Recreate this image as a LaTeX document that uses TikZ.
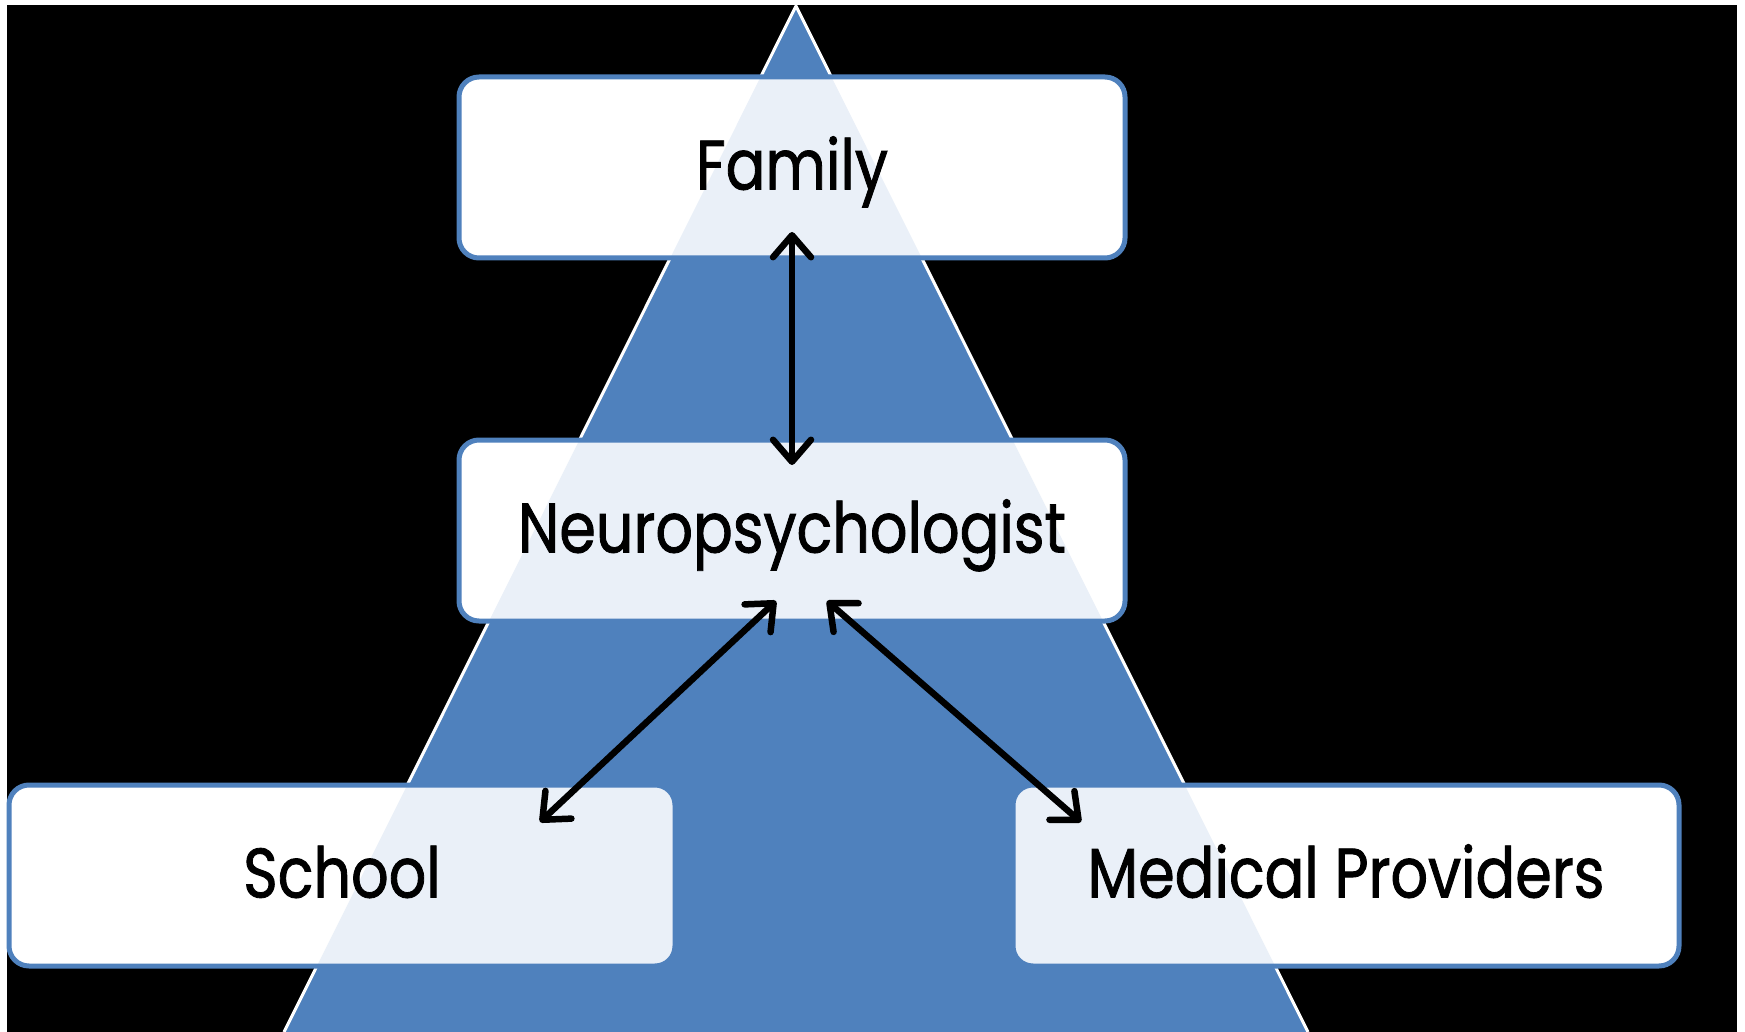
\documentclass[tikz,border=0pt]{standalone}
\usepackage{fontspec}
\setmainfont{Poppins}[FakeStretch=0.84,FakeBold=1.2]
\usetikzlibrary{arrows.meta}
\definecolor{triblue}{HTML}{4F81BD}
\definecolor{lightblue}{HTML}{EAF0F8}
\tikzset{
  x=1pt, y=-1pt,
  boxnode/.style={rounded corners=20pt, fill=white, draw=triblue, line width=5pt,
    minimum width=666pt, minimum height=181pt, inner sep=0pt,
    text height=44pt, text depth=0pt,
    font=\fontsize{70}{84}\selectfont,
    path picture={\fill[lightblue] (apex) -- (bl) -- (br) -- cycle;}},
  link/.style={line width=6.5pt, line cap=round,
    {Straight Barb[length=22pt,width=38pt,line cap=round,line join=round]}-{Straight Barb[length=22pt,width=38pt,line cap=round,line join=round]}}
}
\begin{document}
\begin{tikzpicture}
\useasboundingbox (0,0) rectangle (1745,1032);
\fill[white] (0,0) rectangle (1745,1032);
\fill[black] (7,5) rectangle (1737,1032);
\coordinate (apex) at (796,6);
\coordinate (bl) at (284,1032);
\coordinate (br) at (1308,1032);
\fill[triblue] (apex) -- (bl) -- (br) -- cycle;
\draw[white, line width=3pt, line join=round] (bl) -- (apex) -- (br);
\node[boxnode] (family) at (792,167.5) {Family};
\node[boxnode] (neuro) at (792,530.5) {Neuropsychologist};
\node[boxnode] (school) at (342,875.5) {School};
\node[boxnode] (medical) at (1346,875.5) {Medical Providers};
\coordinate (fa) at (792,232);
\coordinate (na) at (792,465);
\coordinate (nl) at (776,601);
\coordinate (sa) at (540,822);
\coordinate (nr) at (827,601);
\coordinate (ma) at (1081,822);
\draw[link] (fa) -- (na);
\draw[link] (nl) -- (sa);
\draw[link] (nr) -- (ma);
\end{tikzpicture}
\end{document}
